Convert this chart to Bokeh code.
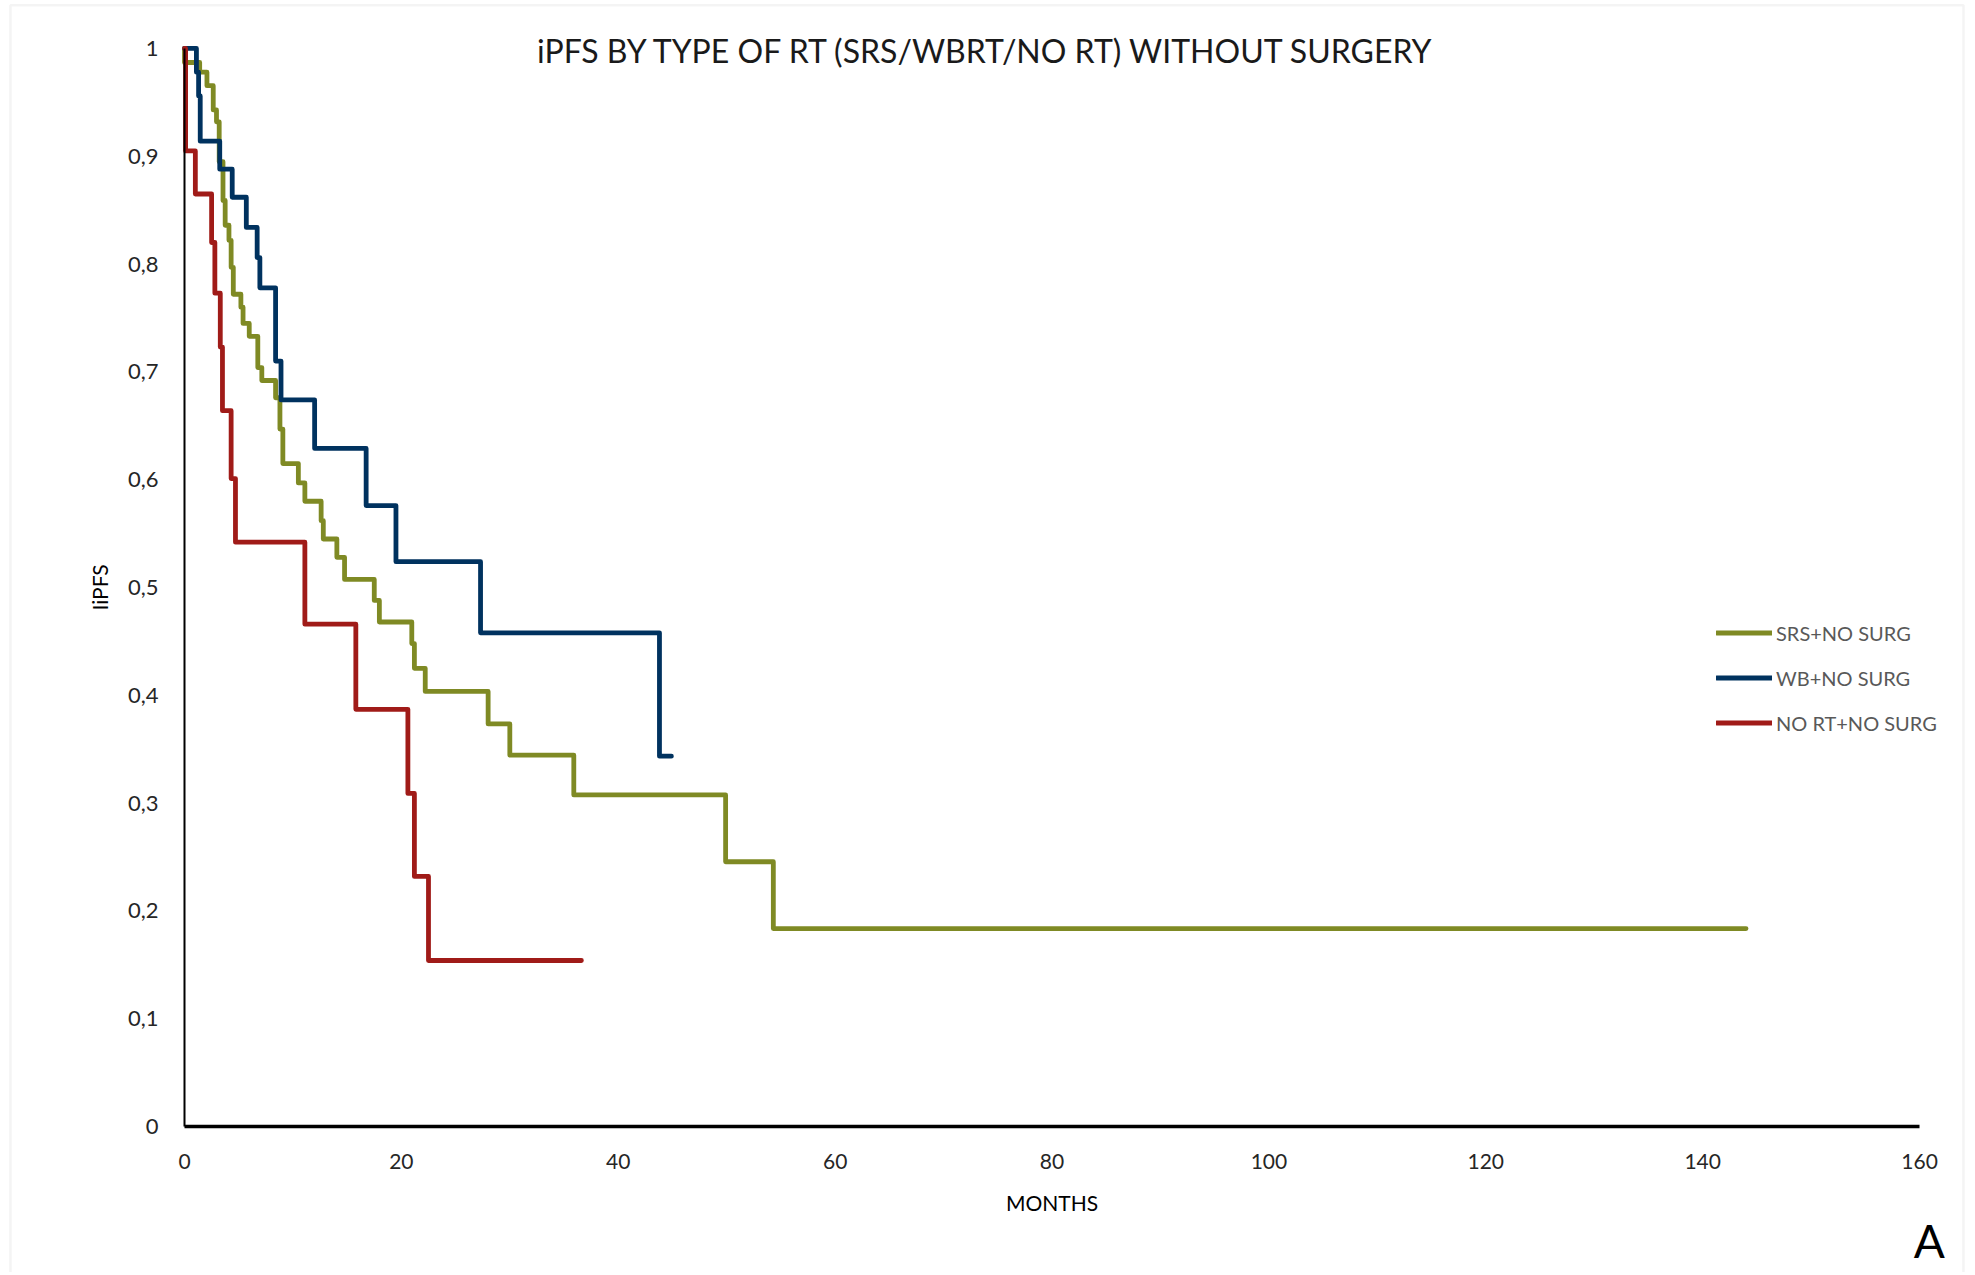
from bokeh.plotting import figure
from bokeh.models import (Legend, LegendItem, Label, FixedTicker, BoxAnnotation,
                          CustomJSTickFormatter, Range1d)
from bokeh.embed import file_html
from bokeh.resources import INLINE

# ---------------- data ----------------
title_text = "iPFS BY TYPE OF RT (SRS/WBRT/NO RT) WITHOUT SURGERY"
x_label = "MONTHS"
y_label = "IiPFS"
panel_letter = "A"

x_ticks = [0, 20, 40, 60, 80, 100, 120, 140, 160]
y_ticks = [0, 0.1, 0.2, 0.3, 0.4, 0.5, 0.6, 0.7, 0.8, 0.9, 1]
y_tick_labels = ["0", "0,1", "0,2", "0,3", "0,4", "0,5", "0,6", "0,7", "0,8", "0,9", "1"]

series_names = ["SRS+NO SURG", "WB+NO SURG", "NO RT+NO SURG"]

srs_months = [0, 0, 1.4, 2.07, 2.65, 2.95, 3.2, 3.55, 3.75, 4.1, 4.3, 4.5, 5.2, 5.4,
              5.97, 6.76, 7.13, 8.4, 8.8, 9.07, 10.5, 11.1, 12.6, 12.8, 14.05, 14.76,
              17.5, 17.97, 20.96, 21.2, 22.2, 28.0, 30.0, 35.9, 49.9, 54.3, 144.0]
srs_ipfs = [1, 0.987, 0.978, 0.9655, 0.943, 0.932, 0.895, 0.859, 0.836, 0.822, 0.797, 0.772,
            0.760, 0.745, 0.733, 0.704, 0.692, 0.676, 0.647, 0.615, 0.597, 0.580, 0.562,
            0.545, 0.528, 0.5075, 0.488, 0.468, 0.448, 0.425, 0.4036, 0.3735, 0.3445,
            0.3076, 0.2456, 0.1836, 0.1836]

wb_months = [0, 1.1, 1.3, 1.45, 3.25, 4.4, 5.7, 6.7, 6.95, 8.4, 8.9, 12.0, 16.75,
             19.5, 27.3, 43.8, 44.9]
wb_ipfs = [1, 0.978, 0.956, 0.914, 0.888, 0.862, 0.834, 0.806, 0.778, 0.710, 0.674,
           0.629, 0.576, 0.524, 0.458, 0.3435, 0.3435]

nort_months = [0, 0.1, 1.0, 2.5, 2.8, 3.3, 3.5, 4.3, 4.7, 11.1, 15.8, 20.6, 21.2,
               22.5, 36.6]
nort_ipfs = [1, 0.905, 0.865, 0.820, 0.773, 0.723, 0.664, 0.601, 0.542, 0.466,
             0.387, 0.309, 0.232, 0.154, 0.154]

colors = ["#7f8a24", "#00325f", "#a01b18"]

FONT = "Lato"

# ---------------- figure ----------------
# The plot frame covers the whole canvas; axes are pinned at x=0 / y=0.
p = figure(width=1966, height=1272, x_range=Range1d(-16.968, 164.33),
           y_range=Range1d(-0.1354, 1.0445), output_backend="svg", toolbar_location=None,
           min_border_left=0, min_border_right=0, min_border_top=0,
           min_border_bottom=0)
p.outline_line_color = None
p.xgrid.visible = False
p.ygrid.visible = False
p.background_fill_color = "white"
p.border_fill_color = "white"

# light chart-area border (decoration)
p.add_layout(BoxAnnotation(left=-16.05, right=164.05, top=1.0402, bottom=-0.5,
                           fill_alpha=0, line_color="#d9d9d9", line_width=2.5))

renderers = []
for xs, ys, c in [(srs_months, srs_ipfs, colors[0]),
                  (wb_months, wb_ipfs, colors[1]),
                  (nort_months, nort_ipfs, colors[2])]:
    r = p.step(xs, ys, mode="after", line_color=c, line_width=4.8,
               line_join="round", line_cap="round")
    renderers.append(r)

# axes
xa = p.xaxis[0]
xa.fixed_location = 0
xa.bounds = (0, 160)
xa.ticker = FixedTicker(ticks=x_ticks)
xa.axis_line_color = "black"
xa.axis_line_width = 3.5
xa.major_tick_line_color = None
xa.minor_tick_line_color = None
xa.major_tick_out = 0
xa.major_label_standoff = 27
xa.major_label_text_font = FONT
xa.major_label_text_font_size = "21px"
xa.major_label_text_color = "#262626"
xa.axis_label = x_label
xa.axis_label_text_font = FONT
xa.axis_label_text_font_style = "normal"
xa.axis_label_text_font_size = "21px"
xa.axis_label_text_color = "#000000"
xa.axis_label_standoff = 18

ya = p.yaxis[0]
ya.fixed_location = 0
ya.bounds = (0, 1)
ya.ticker = FixedTicker(ticks=y_ticks)
ya.formatter = CustomJSTickFormatter(
    args=dict(tick_vals=y_ticks, tick_texts=y_tick_labels), code="""
    let best = 0, d = 1e9;
    for (let i = 0; i < tick_vals.length; i++) {
        const dd = Math.abs(tick_vals[i] - tick);
        if (dd < d) { d = dd; best = i; }
    }
    return tick_texts[best];
""")
ya.axis_line_color = "black"
ya.axis_line_width = 2
ya.major_tick_line_color = None
ya.minor_tick_line_color = None
ya.major_tick_out = 0
ya.major_label_standoff = 26
ya.major_label_text_font = FONT
ya.major_label_text_font_size = "22px"
ya.major_label_text_color = "#262626"
ya.axis_label = y_label
ya.axis_label_text_font = FONT
ya.axis_label_text_font_style = "normal"
ya.axis_label_text_font_size = "21px"
ya.axis_label_text_color = "#000000"
ya.axis_label_standoff = 13

# legend
items = [LegendItem(label=n, renderers=[r]) for n, r in zip(series_names, renderers)]
legend = Legend(items=items, location=(1716, 537), padding=0, margin=0, spacing=20,
                glyph_height=25, glyph_width=56, label_height=25, label_standoff=4,
                label_text_font=FONT, label_text_font_size="20px",
                label_text_color="#595959", border_line_color=None,
                background_fill_alpha=0)
p.add_layout(legend)

# title inside the plot area
p.add_layout(Label(x=74.0, y=0.998, text=title_text, text_align="center",
                   text_baseline="middle", text_font=FONT, text_font_size="32px",
                   text_color="#1a1a1a"))
# panel letter
p.add_layout(Label(x=160.9, y=-0.1058, text=panel_letter, text_align="center",
                   text_baseline="middle", text_font=FONT, text_font_size="46px",
                   text_color="#000000"))

open("out.html", "w").write(file_html(p, INLINE))
